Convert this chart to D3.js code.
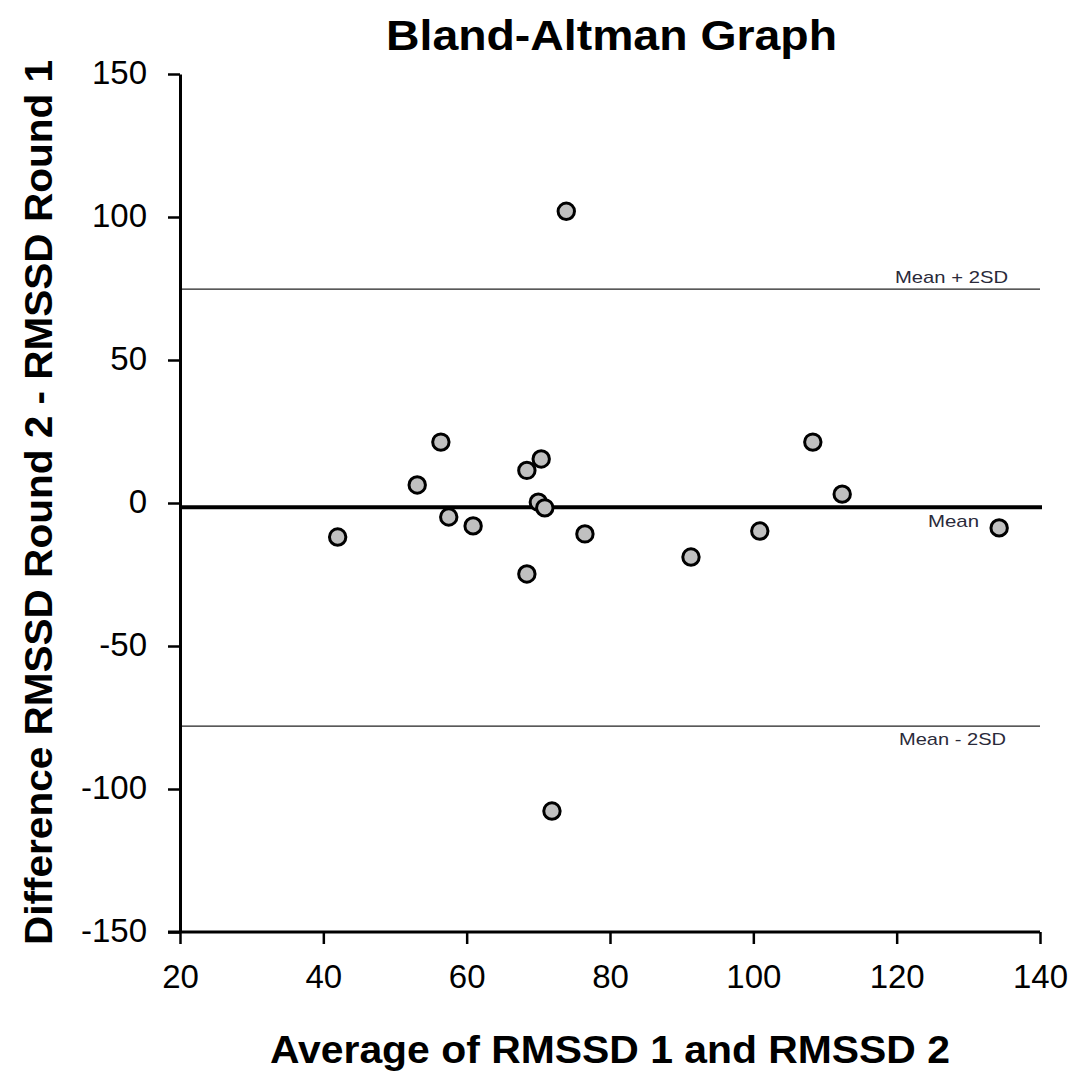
<!DOCTYPE html>
<html><head><meta charset="utf-8">
<script src="https://cdn.jsdelivr.net/npm/d3@7"></script>
<style>body{margin:0;background:#fff}</style></head>
<body><svg id="c" width="1072" height="1072"></svg>
<script>
const avgValues = [42.0, 53.1, 56.4, 57.5, 60.9, 68.4, 68.4, 70.4, 70.0, 70.9, 73.9, 71.9, 76.5, 91.3, 100.9, 108.3, 112.4, 134.3];
const diffValues = [-11.9, 6.3, 21.3, -4.9, -8.0, 11.4, -24.8, 15.4, 0.3, -1.7, 102.0, -107.7, -10.8, -18.9, -9.8, 21.3, 3.1, -8.7];
const xTicks = [20, 40, 60, 80, 100, 120, 140];
const yTicks = [-150, -100, -50, 0, 50, 100, 150];
const meanDiff = -1.5;
const upperLimit = 74.8;
const lowerLimit = -78.0;
const refLabels = ["Mean + 2SD", "Mean", "Mean - 2SD"];
const title = "Bland-Altman Graph";
const xTitle = "Average of RMSSD 1 and RMSSD 2";
const yTitle = "Difference RMSSD Round 2 - RMSSD Round 1";

const svg = d3.select("#c");
const x = d3.scaleLinear().domain([20, 140]).range([180, 1040]);
const y = d3.scaleLinear().domain([-150, 150]).range([932, 74]);
const font = "Arial, 'Liberation Sans', sans-serif";

// reference lines
svg.append("line").attr("x1", x(20)).attr("x2", x(140)).attr("y1", y(upperLimit)).attr("y2", y(upperLimit))
  .attr("stroke", "#222").attr("stroke-width", 1.3);
svg.append("line").attr("x1", x(20)).attr("x2", x(140)).attr("y1", y(lowerLimit)).attr("y2", y(lowerLimit))
  .attr("stroke", "#222").attr("stroke-width", 1.3);
svg.append("line").attr("x1", x(20)).attr("x2", x(140) + 2).attr("y1", y(meanDiff)).attr("y2", y(meanDiff))
  .attr("stroke", "#000").attr("stroke-width", 4);

// ref labels
function refLabel(txt, x0, base, len) {
  svg.append("text").attr("x", x0).attr("y", base)
    .attr("font-family", font).attr("font-size", 17).attr("fill", "#2a2a3a")
    .attr("textLength", len).attr("lengthAdjust", "spacingAndGlyphs").text(txt);
}
refLabel(refLabels[0], 895, 283, 113);
refLabel(refLabels[1], 928, 527, 51);
refLabel(refLabels[2], 899, 745, 107);

// axes
const fmt = d => String(d).replace("\u2212", "-");
const xAxis = d3.axisBottom(x).tickValues(xTicks).tickSize(12).tickPadding(21).tickSizeOuter(0).tickFormat(fmt);
const yAxis = d3.axisLeft(y).tickValues(yTicks).tickSize(12).tickPadding(21).tickSizeOuter(0).tickFormat(fmt);
const gx = svg.append("g").attr("transform", `translate(0,${y(-150)})`).call(xAxis);
const gy = svg.append("g").attr("transform", `translate(${x(20)},0)`).call(yAxis);
[gx, gy].forEach(g => {
  g.select(".domain").attr("stroke", "#000").attr("stroke-width", 3);
  g.selectAll(".tick line").attr("stroke", "#000").attr("stroke-width", 2.5);
  g.selectAll(".tick text").attr("font-family", font).attr("font-size", 33).attr("fill", "#000");
});
gy.selectAll(".tick text").attr("dy", "0.28em");
gx.select(".domain").attr("d", `M${x(20)-12},0H${x(140)}`);

// points
svg.append("g").selectAll("circle").data(avgValues.map((v, i) => [v, diffValues[i]]))
  .join("circle").attr("cx", d => x(d[0])).attr("cy", d => y(d[1])).attr("r", 8.2)
  .attr("fill", "#c0c0c0").attr("stroke", "#000").attr("stroke-width", 3);

// titles
svg.append("text").attr("x", 386).attr("y", 50)
  .attr("font-family", font).attr("font-weight", "bold").attr("font-size", 42)
  .attr("textLength", 451).attr("lengthAdjust", "spacingAndGlyphs").text(title);
svg.append("text").attr("x", 270).attr("y", 1063)
  .attr("font-family", font).attr("font-weight", "bold").attr("font-size", 38)
  .attr("textLength", 680).attr("lengthAdjust", "spacingAndGlyphs").text(xTitle);
svg.append("text").attr("transform", "translate(52,945) rotate(-90)")
  .attr("font-family", font).attr("font-weight", "bold").attr("font-size", 38)
  .attr("textLength", 885).attr("lengthAdjust", "spacingAndGlyphs").text(yTitle);
</script></body></html>
